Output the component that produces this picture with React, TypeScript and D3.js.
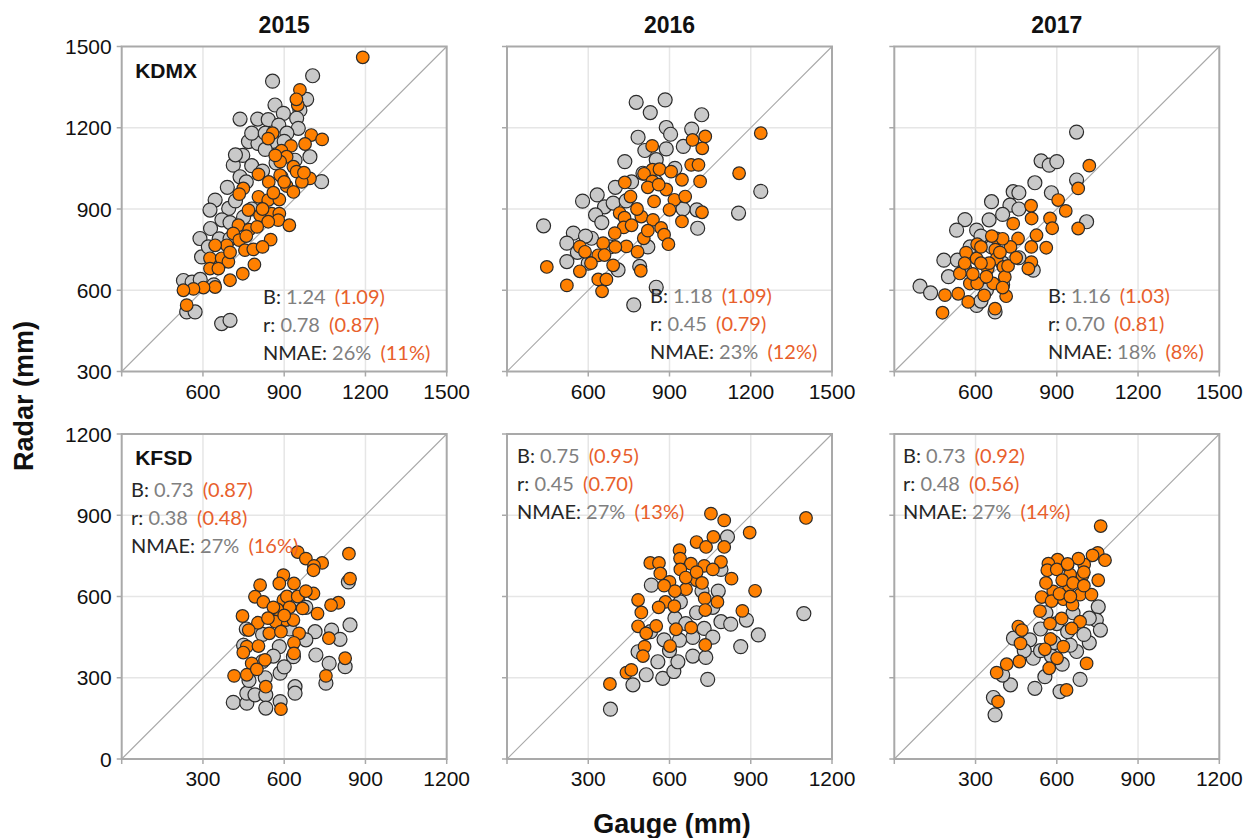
import React from "react";
import * as d3 from "d3";

// ---------- data: [gauge (mm), radar (mm)] ----------
const years = ["2015", "2016", "2017"];
const stations = ["KDMX", "KFSD"];

const kdmx2015Gray = [[857,1372],[1005,1392],[983,1305],[866,1284],[897,1253],[958,1265],[946,1235],[737,1232],[802,1232],[841,1230],[952,1198],[768,1149],[803,1142],[747,1098],[712,1062],[737,1019],[995,1093],[1038,1001],[645,933],[626,896],[695,902],[628,828],[589,791],[595,723],[528,636],[540,520],[571,520],[669,477],[700,489],[880,1210],[910,1180],[860,1150],[830,1120],[900,1150],[780,1060],[760,1000],[820,1040],[670,860],[700,850],[660,790],[620,760],[560,630],[590,640],[650,700],[940,1080],[870,1070],[720,930],[780,900],[640,620],[690,980],[720,1100],[780,1180],[830,1180],[700,790],[750,870]];
const kdmx2015Orange = [[1190,1460],[958,1340],[950,1284],[945,1305],[857,1180],[841,1160],[1000,1173],[1040,1157],[977,1140],[925,1133],[890,1115],[909,1093],[885,1075],[867,1098],[934,1056],[891,1019],[805,1028],[843,1000],[885,1025],[946,1038],[995,1013],[965,1000],[973,1034],[909,985],[934,963],[749,976],[734,955],[805,945],[841,933],[882,935],[768,896],[811,877],[854,883],[882,883],[878,859],[841,853],[919,840],[731,840],[771,824],[800,834],[712,810],[734,785],[688,766],[645,766],[755,748],[786,751],[850,787],[626,718],[669,718],[694,705],[626,680],[657,680],[747,661],[790,695],[700,637],[645,612],[602,610],[565,605],[528,600],[540,545],[820,900],[860,960],[760,800],[700,740],[820,760],[900,1000]];

const kdmx2016Gray = [[777,1294],[884,1303],[829,1256],[1019,1248],[888,1201],[982,1195],[904,1176],[784,1165],[809,1116],[888,1122],[951,1131],[735,1075],[851,1082],[802,1032],[633,952],[579,929],[660,908],[627,878],[692,922],[435,838],[545,811],[521,774],[612,792],[1001,897],[1004,829],[1155,885],[1237,965],[521,706],[710,675],[790,688],[851,611],[768,546],[700,980],[760,1000],[850,1000],[920,1050],[650,850],[590,800],[740,930],[680,760],[820,760],[600,700],[560,740],[950,900]];
const kdmx2016Orange = [[1237,1180],[1032,1168],[985,1155],[836,1133],[1021,1124],[980,1063],[1007,1063],[1157,1032],[837,1045],[806,1030],[863,1047],[906,1038],[837,1002],[946,1008],[1013,1002],[735,998],[888,972],[756,946],[843,928],[918,934],[958,946],[1020,888],[900,897],[716,885],[734,868],[796,872],[839,860],[946,854],[869,830],[731,832],[698,811],[805,792],[880,805],[896,770],[741,762],[782,742],[655,774],[569,761],[588,742],[637,729],[692,692],[447,686],[569,670],[637,640],[667,640],[521,618],[651,596],[794,672],[820,980],[860,990],[780,900],[760,840],[820,820],[700,760],[660,730],[610,700]];

const kdmx2017Gray = [[973,1184],[842,1078],[872,1062],[900,1075],[973,1007],[819,997],[739,964],[659,927],[727,914],[561,861],[530,822],[604,822],[1010,853],[483,711],[533,711],[395,615],[434,590],[604,544],[672,520],[813,674],[760,960],[880,960],[700,880],[650,860],[760,900],[620,800],[580,760],[660,760],[700,700],[560,680],[500,650],[640,600],[700,620],[760,720],[620,560]];
const kdmx2017Orange = [[1020,1060],[979,976],[905,933],[933,893],[979,828],[805,912],[807,865],[875,865],[739,846],[883,829],[825,803],[757,791],[806,760],[861,757],[678,791],[606,770],[729,760],[565,739],[673,750],[604,717],[678,717],[806,704],[795,680],[645,680],[703,686],[542,662],[579,625],[606,625],[665,625],[708,649],[536,587],[487,582],[573,557],[632,581],[713,578],[672,532],[478,517],[620,760],[650,700],[690,740],[700,790],[640,650],[560,700],[590,660],[620,700],[660,800],[700,610],[720,690],[750,720]];

const kfsd2015Gray = [[837,654],[843,495],[714,470],[775,476],[806,442],[717,384],[766,353],[825,341],[754,280],[634,378],[582,415],[585,317],[412,209],[462,206],[462,243],[492,237],[532,237],[532,188],[585,212],[640,267],[640,243],[460,480],[520,460],[560,520],[600,560],[650,590],[680,560],[620,480],[560,380],[520,360],[470,290],[600,340],[680,440],[450,420],[530,300]];
const kfsd2015Orange = [[839,758],[843,666],[650,764],[680,740],[740,724],[710,713],[708,697],[597,679],[511,642],[582,648],[636,648],[708,611],[492,599],[523,580],[597,587],[800,577],[773,568],[575,552],[668,556],[723,537],[446,528],[607,513],[634,513],[503,503],[568,507],[469,476],[545,464],[588,470],[655,464],[765,446],[462,415],[505,417],[636,429],[449,393],[636,390],[480,353],[529,366],[825,372],[415,307],[462,311],[499,331],[754,307],[532,267],[588,184],[560,560],[610,600],[620,560],[540,520],[600,530],[650,600],[680,620]];

const kfsd2016Gray = [[1096,537],[928,458],[863,415],[741,294],[382,184],[465,274],[514,311],[575,298],[616,323],[631,359],[686,380],[734,375],[557,359],[484,396],[790,507],[826,498],[884,513],[728,482],[686,449],[637,439],[533,642],[814,820],[580,440],[530,470],[620,520],[700,540],[760,560],[780,620],[720,620],[660,500],[600,400],[760,450],[640,580],[790,700]];
const kfsd2016Orange = [[753,906],[802,881],[1104,890],[896,836],[700,801],[735,783],[762,820],[802,783],[637,771],[639,740],[679,721],[728,713],[790,728],[529,724],[561,724],[566,685],[600,654],[700,660],[829,666],[661,627],[916,621],[585,580],[484,587],[618,564],[730,593],[777,580],[732,550],[869,547],[496,541],[551,491],[484,490],[624,479],[680,485],[514,464],[508,415],[602,417],[732,421],[502,380],[441,319],[459,329],[380,277],[640,700],[660,670],[700,690],[720,650],[760,700],[620,620],[560,560],[580,640]];

const kfsd2017Gray = [[372,163],[366,227],[429,274],[519,261],[612,249],[686,294],[513,372],[440,446],[753,562],[746,513],[761,476],[720,429],[673,397],[556,304],[500,440],[540,480],[600,500],[640,470],[700,460],[580,380],[620,350],[540,400],[480,400],[660,540],[720,520],[590,430],[650,420],[560,540],[400,310]];
const kfsd2017Orange = [[762,860],[751,761],[732,752],[778,734],[603,736],[569,721],[639,715],[565,697],[701,718],[695,678],[649,681],[753,660],[645,639],[587,619],[544,598],[686,607],[728,607],[624,590],[581,583],[658,570],[538,546],[618,519],[686,507],[575,500],[655,482],[458,489],[471,476],[466,427],[577,443],[556,405],[624,415],[601,372],[462,360],[415,350],[378,319],[572,335],[710,353],[636,255],[383,212],[600,700],[620,660],[660,650],[700,690],[680,740],[640,720],[610,610],[560,650],[700,640],[650,600]];

const topTicks = [300, 600, 900, 1200, 1500];
const bottomTicks = [0, 300, 600, 900, 1200];

const statB = [["1.24","1.09"],["1.18","1.09"],["1.16","1.03"],["0.73","0.87"],["0.75","0.95"],["0.73","0.92"]];
const statR = [["0.78","0.87"],["0.45","0.79"],["0.70","0.81"],["0.38","0.48"],["0.45","0.70"],["0.48","0.56"]];
const statNMAE = [["26%","11%"],["23%","12%"],["18%","8%"],["27%","16%"],["27%","13%"],["27%","14%"]];

// ---------- layout ----------
const W = 1244, H = 838;
const colX = [121.7, 507, 894.3];
const rowY = [46.5, 434];
const SIZE = 325;
const statPos = [[263, 304], [650, 303], [1048, 303], [131, 497], [517, 463], [903, 463]];
const LINE = 27.8;
const ARIAL = "'Liberation Sans', Arial, sans-serif";
const CAL = "Lato, 'Open Sans', sans-serif";

const panelData = [
  [kdmx2015Gray, kdmx2015Orange], [kdmx2016Gray, kdmx2016Orange], [kdmx2017Gray, kdmx2017Orange],
  [kfsd2015Gray, kfsd2015Orange], [kfsd2016Gray, kfsd2016Orange], [kfsd2017Gray, kfsd2017Orange],
];

function Panel({ idx }: { idx: number }) {
  const row = Math.floor(idx / 3), col = idx % 3;
  const ticks = row === 0 ? topTicks : bottomTicks;
  const dom = [ticks[0], ticks[ticks.length - 1]];
  const x0 = colX[col], y0 = rowY[row];
  const x = d3.scaleLinear().domain(dom).range([x0, x0 + SIZE]);
  const y = d3.scaleLinear().domain(dom).range([y0 + SIZE, y0]);
  const [gray, orange] = panelData[idx];
  const inner = ticks.slice(1, -1);
  const [sx, sy] = statPos[idx];
  const lines: [string, string[]][] = [["B:", statB[idx]], ["r:", statR[idx]], ["NMAE:", statNMAE[idx]]];
  return (
    <g>
      <rect x={x0} y={y0} width={SIZE} height={SIZE} fill="#fff" />
      {inner.map((t) => (
        <g key={"g" + t}>
          <line x1={x(t)} x2={x(t)} y1={y0} y2={y0 + SIZE} stroke="#e6e6e6" strokeWidth={1.5} />
          <line x1={x0} x2={x0 + SIZE} y1={y(t)} y2={y(t)} stroke="#e6e6e6" strokeWidth={1.5} />
        </g>
      ))}
      <line x1={x(dom[0])} y1={y(dom[0])} x2={x(dom[1])} y2={y(dom[1])} stroke="#a8a8a8" strokeWidth={1.1} />
      <rect x={x0} y={y0} width={SIZE} height={SIZE} fill="none" stroke="#a9a9a9" strokeWidth={2} />
      {ticks.map((t) => (
        <g key={"t" + t}>
          <line x1={x0 - 5} x2={x0} y1={y(t)} y2={y(t)} stroke="#a9a9a9" strokeWidth={1.5} />
          <line x1={x(t)} x2={x(t)} y1={y0 + SIZE} y2={y0 + SIZE + 5} stroke="#a9a9a9" strokeWidth={1.5} />
        </g>
      ))}
      {ticks.slice(1).map((t) => (
        <text key={"xl" + t} x={x(t)} y={y0 + SIZE + 27} textAnchor="middle" fontFamily={ARIAL} fontSize={21} fill="#111">{t}</text>
      ))}
      {col === 0 && ticks.map((t) => (
        <text key={"yl" + t} x={x0 - 10} y={y(t) + 7.5} textAnchor="end" fontFamily={ARIAL} fontSize={21} fill="#111">{t}</text>
      ))}
      {gray.map((d, i) => (
        <circle key={"c" + i} cx={x(d[0])} cy={y(d[1])} r={7} fill="#c9c9c9" stroke="#2b2b2b" strokeWidth={1.2} />
      ))}
      {orange.map((d, i) => (
        <circle key={"o" + i} cx={x(d[0])} cy={y(d[1])} r={6.3} fill="#ff8000" stroke="#2b2b2b" strokeWidth={1.2} />
      ))}
      {col === 0 && (
        <text x={x0 + 13.5} y={row === 0 ? 78 : 465} fontFamily={ARIAL} fontWeight="bold" fontSize={21} fill="#111">{stations[row]}</text>
      )}
      {lines.map(([lab, v], i) => (
        <text key={"s" + i} x={sx} y={sy + i * LINE} fontFamily={CAL} fontSize={20} style={{ whiteSpace: "pre" }}>
          <tspan fill="#262626">{lab}</tspan>
          <tspan fill="#808080">{" " + v[0]}</tspan>
          <tspan fill="#e8602c" dx={4}>{" (" + v[1] + ")"}</tspan>
        </text>
      ))}
    </g>
  );
}

export default function App() {
  return (
    <svg width={W} height={H} style={{ position: "absolute", left: 0, top: 0, background: "#fff" }}>
      <rect width={W} height={H} fill="#fff" />
      {years.map((yr, i) => (
        <text key={yr} x={colX[i] + SIZE / 2} y={33} textAnchor="middle" fontFamily={ARIAL} fontWeight="bold" fontSize={23} fill="#111">{yr}</text>
      ))}
      {[0, 1, 2, 3, 4, 5].map((i) => <Panel key={i} idx={i} />)}
      <text transform="translate(33,396) rotate(-90)" textAnchor="middle" fontFamily={ARIAL} fontWeight="bold" fontSize={27} fill="#111">Radar (mm)</text>
      <text x={672} y={833} textAnchor="middle" fontFamily={ARIAL} fontWeight="bold" fontSize={27} fill="#111">Gauge (mm)</text>
    </svg>
  );
}
